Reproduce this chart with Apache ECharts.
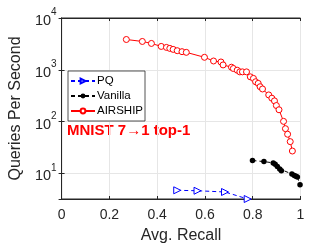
<!DOCTYPE html>
<html><head><meta charset="utf-8">
<script src="https://cdn.jsdelivr.net/npm/echarts@6/dist/echarts.min.js"></script>
<style>html,body{margin:0;padding:0;background:#fff}#c{width:332px;height:249px}</style>
</head><body><div id="c"></div>
<script>
// Data
const pqRecall = [0.484, 0.569, 0.684, 0.779];
const pqQps = [4.71, 4.62, 4.37, 3.2];

const vanillaRecall = [0.799, 0.847, 0.886, 0.894, 0.903, 0.913, 0.920, 0.964, 0.974, 0.981, 0.987, 0.998];
const vanillaQps = [17.7, 16.9, 15.9, 15.0, 13.6, 12.2, 11.2, 9.7, 9.1, 8.8, 8.5, 6.0];

const airshipRecall = [0.271, 0.338, 0.376, 0.417, 0.439, 0.453, 0.467, 0.484, 0.504, 0.522,
  0.598, 0.636, 0.667, 0.676, 0.711, 0.719, 0.735, 0.746, 0.757, 0.774,
  0.790, 0.803, 0.812, 0.823, 0.831, 0.841, 0.867, 0.880, 0.891, 0.899,
  0.910, 0.929, 0.937, 0.946, 0.957, 0.966];
const airshipQps = [3846, 3524, 3228, 2827, 2705, 2588, 2477, 2339, 2239, 2172,
  1742, 1479, 1415, 1241, 1122, 1059, 982, 912, 912, 912,
  731, 682, 588, 547, 471, 426, 327, 283, 251, 204,
  169, 101, 73, 57, 41, 27];

const xTicks = [0, 0.2, 0.4, 0.6, 0.8, 1];
const yTicks = [10, 100, 1000, 10000];
const seriesNames = ['PQ', 'Vanilla', 'AIRSHIP'];
const annotation = 'MNIST 7\u21921 top-1';

const zip = (a, b) => a.map((v, i) => [v, b[i]]);
const FONT = '"Liberation Sans", Arial, Helvetica, sans-serif';
const AX = '#262626';

const chart = echarts.init(document.getElementById('c'), null, {renderer: 'canvas'});
const yFmt = v => {
  const e = Math.round(Math.log10(v));
  if (yTicks.indexOf(v) < 0 && Math.abs(Math.pow(10, e) - v) > 1e-6) return '';
  return '{b|10}{s|' + e + '}';
};
chart.setOption({
  animation: false,
  backgroundColor: '#fff',
  grid: {left: 54, right: 31.5, top: 18, bottom: 48, show: true, borderColor: AX, borderWidth: 1, backgroundColor: 'transparent'},
  xAxis: [{
    type: 'value', min: 0, max: 1, interval: 0.2,
    name: 'Avg. Recall', nameLocation: 'middle', nameGap: 29,
    nameTextStyle: {fontFamily: FONT, fontSize: 16, color: AX},
    axisLine: {show: true, lineStyle: {color: AX, width: 1}},
    axisTick: {show: true, inside: true, length: 3, lineStyle: {color: AX}},
    axisLabel: {fontFamily: FONT, fontSize: 14, color: AX, margin: 9, formatter: v => xTicks.indexOf(+v.toFixed(1)) >= 0 ? String(+v.toFixed(1)) : ''},
    splitLine: {show: true, lineStyle: {color: '#e6e6e6', width: 1}}
  }, {
    type: 'value', min: 0, max: 1, interval: 0.2, position: 'top',
    axisLine: {show: true, lineStyle: {color: AX}},
    axisTick: {show: true, inside: true, length: 3, lineStyle: {color: AX}},
    axisLabel: {show: false}, splitLine: {show: false}
  }],
  yAxis: [{
    type: 'log', min: 3.2, max: 10000, logBase: 10,
    name: 'Queries Per Second', nameLocation: 'middle', nameGap: 34,
    nameTextStyle: {fontFamily: FONT, fontSize: 16, color: AX},
    axisLine: {show: true, lineStyle: {color: AX}},
    axisTick: {show: true, inside: true, length: 3, lineStyle: {color: AX}},
    axisLabel: {
      fontFamily: FONT, color: AX, margin: 5, showMinLabel: false, formatter: yFmt,
      rich: {
        b: {fontFamily: FONT, fontSize: 14.5, color: AX, padding: [6, 0, 0, 0]},
        s: {fontFamily: FONT, fontSize: 10, color: AX, verticalAlign: 'top', padding: [0, 0, 6, 0]}
      }
    },
    splitLine: {show: true, lineStyle: {color: '#e6e6e6', width: 1}}
  }, {
    type: 'log', min: 3.2, max: 10000, logBase: 10, position: 'right',
    axisLine: {show: true, lineStyle: {color: AX}},
    axisTick: {show: true, inside: true, length: 3, lineStyle: {color: AX}},
    axisLabel: {show: false}, splitLine: {show: false}
  }],
  legend: {
    orient: 'vertical', left: 68, top: 71,
    data: seriesNames,
    backgroundColor: '#fff', borderColor: AX, borderWidth: 0.8, borderRadius: 0,
    padding: [4, 2, 4, 2], itemGap: 3, itemWidth: 24, itemHeight: 6,
    textStyle: {fontFamily: FONT, fontSize: 11.5, lineHeight: 12, height: 12, color: '#000', padding: [0, 0, 0, -3]}
  },
  graphic: [{
    type: 'text', left: 67, top: 123.5,
    style: {text: annotation, fontFamily: FONT, fontSize: 15, fontWeight: 'bold', fill: '#ff0000'}
  }],
  series: [{
    name: seriesNames[0], type: 'line', data: zip(pqRecall, pqQps),
    symbol: 'triangle', symbolRotate: -90, symbolSize: 7, clip: false,
    lineStyle: {color: '#0000ff', width: 1, type: [4, 3]},
    itemStyle: {color: '#fff', borderColor: '#0000ff', borderWidth: 1},
    color: '#0000ff'
  }, {
    name: seriesNames[1], type: 'line', data: zip(vanillaRecall, vanillaQps),
    symbol: 'circle', symbolSize: 5.5, clip: false,
    lineStyle: {color: '#000', width: 1, type: [4, 3]},
    itemStyle: {color: '#000', borderColor: '#000', borderWidth: 0},
    color: '#000'
  }, {
    name: seriesNames[2], type: 'line', data: zip(airshipRecall, airshipQps),
    symbol: 'circle', symbolSize: 6, clip: false,
    lineStyle: {color: '#ff0000', width: 1},
    itemStyle: {color: '#fff', borderColor: '#ff0000', borderWidth: 1},
    color: '#ff0000'
  }]
});
</script></body></html>
